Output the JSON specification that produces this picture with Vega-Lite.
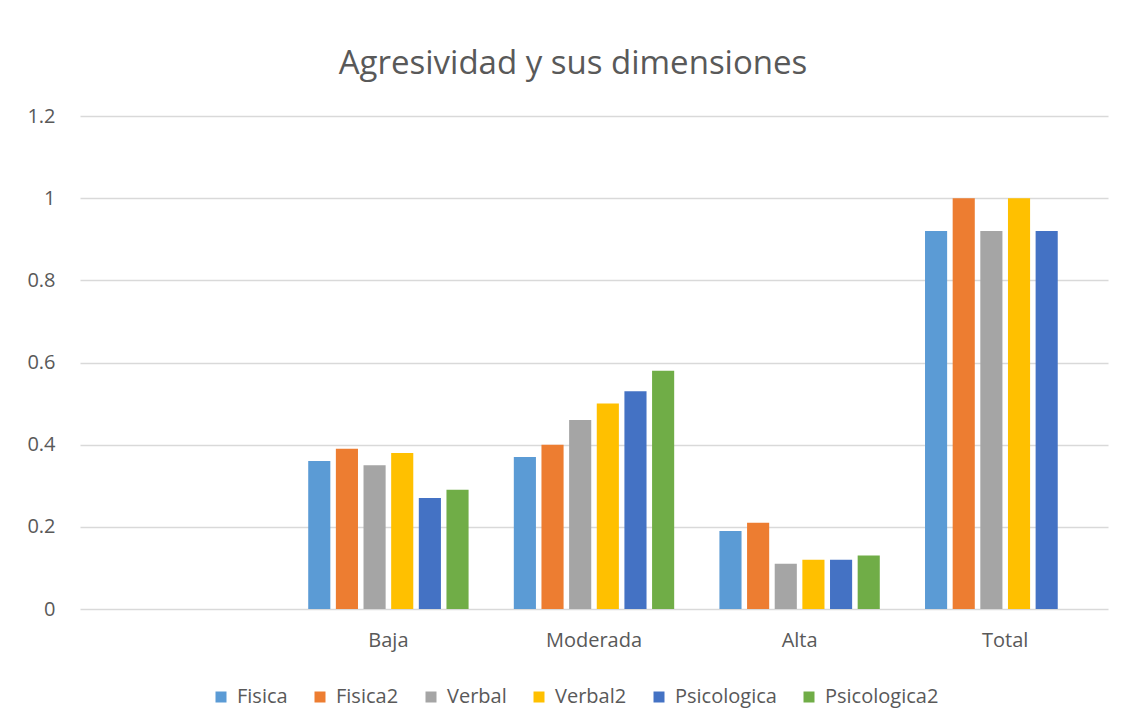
{
  "$schema": "https://vega.github.io/schema/vega-lite/v6.json",
  "autosize": "none",
  "width": 1028,
  "height": 493,
  "padding": {"left": 80, "top": 116, "right": 17, "bottom": 116},
  "background": "white",
  "title": {
    "text": "Agresividad y sus dimensiones",
    "fontSize": 33,
    "font": "Open Sans",
    "fontWeight": "normal",
    "color": "#595959",
    "anchor": "middle",
    "dx": -21,
    "offset": 25
  },
  "data": {
    "values": [
      {"nivel": "Baja", "serie": "Fisica", "valor": 0.36},
      {"nivel": "Baja", "serie": "Fisica2", "valor": 0.39},
      {"nivel": "Baja", "serie": "Verbal", "valor": 0.35},
      {"nivel": "Baja", "serie": "Verbal2", "valor": 0.38},
      {"nivel": "Baja", "serie": "Psicologica", "valor": 0.27},
      {"nivel": "Baja", "serie": "Psicologica2", "valor": 0.29},
      {"nivel": "Moderada", "serie": "Fisica", "valor": 0.37},
      {"nivel": "Moderada", "serie": "Fisica2", "valor": 0.40},
      {"nivel": "Moderada", "serie": "Verbal", "valor": 0.46},
      {"nivel": "Moderada", "serie": "Verbal2", "valor": 0.50},
      {"nivel": "Moderada", "serie": "Psicologica", "valor": 0.53},
      {"nivel": "Moderada", "serie": "Psicologica2", "valor": 0.58},
      {"nivel": "Alta", "serie": "Fisica", "valor": 0.19},
      {"nivel": "Alta", "serie": "Fisica2", "valor": 0.21},
      {"nivel": "Alta", "serie": "Verbal", "valor": 0.11},
      {"nivel": "Alta", "serie": "Verbal2", "valor": 0.12},
      {"nivel": "Alta", "serie": "Psicologica", "valor": 0.12},
      {"nivel": "Alta", "serie": "Psicologica2", "valor": 0.13},
      {"nivel": "Total", "serie": "Fisica", "valor": 0.92},
      {"nivel": "Total", "serie": "Fisica2", "valor": 1.0},
      {"nivel": "Total", "serie": "Verbal", "valor": 0.92},
      {"nivel": "Total", "serie": "Verbal2", "valor": 1.0},
      {"nivel": "Total", "serie": "Psicologica", "valor": 0.92}
    ]
  },
  "mark": {"type": "bar"},
  "encoding": {
    "x": {
      "field": "nivel",
      "type": "nominal",
      "sort": null,
      "scale": {"domain": [" ", "Baja", "Moderada", "Alta", "Total"], "paddingInner": 0.22, "paddingOuter": 0.11},
      "axis": {
        "title": null,
        "labelAngle": 0,
        "ticks": false,
        "domain": false,
        "labelPadding": 21,
        "labelFontSize": 20,
        "labelFont": "Open Sans",
        "labelColor": "#595959"
      }
    },
    "xOffset": {
      "field": "serie",
      "type": "nominal",
      "scale": {"domain": ["Fisica", "Fisica2", "Verbal", "Verbal2", "Psicologica", "Psicologica2"], "paddingInner": 0.2, "paddingOuter": 0}
    },
    "y": {
      "field": "valor",
      "type": "quantitative",
      "scale": {"domain": [0, 1.2]},
      "axis": {
        "title": null,
        "values": [0, 0.2, 0.4, 0.6, 0.8, 1, 1.2],
        "format": "~g",
        "ticks": false,
        "domain": false,
        "labelPadding": 25,
        "labelFontSize": 20,
        "labelFont": "Open Sans",
        "labelColor": "#595959",
        "gridColor": "#d9d9d9",
        "gridWidth": 1.5
      }
    },
    "color": {
      "field": "serie",
      "type": "nominal",
      "scale": {
        "domain": ["Fisica", "Fisica2", "Verbal", "Verbal2", "Psicologica", "Psicologica2"],
        "range": ["#5B9BD5", "#ED7D31", "#A5A5A5", "#FFC000", "#4472C4", "#70AD47"]
      },
      "legend": {
        "title": null,
        "orient": "none",
        "direction": "horizontal",
        "legendX": 131,
        "legendY": 571,
        "symbolType": "square",
        "symbolSize": 121,
        "symbolStrokeWidth": 0,
        "labelFontSize": 20,
        "labelFont": "Open Sans",
        "labelColor": "#595959",
        "labelOffset": 6,
        "columnPadding": 22
      }
    }
  },
  "config": {
    "view": {"stroke": null}
  }
}
